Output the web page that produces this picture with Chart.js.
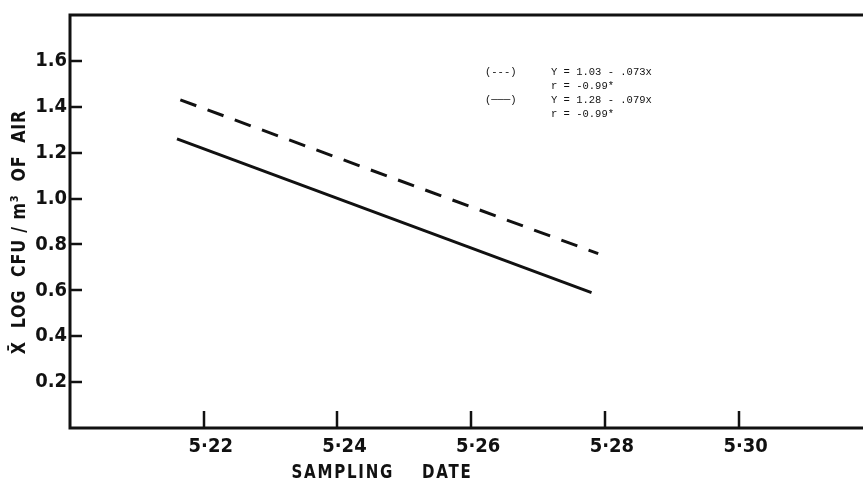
<!DOCTYPE html>
<html>
<head>
<meta charset="utf-8">
<script src="https://cdn.jsdelivr.net/npm/chart.js@4/dist/chart.umd.min.js"></script>
<style>
  html, body { margin:0; padding:0; background:#fff; }
  #wrap { width:863px; height:486px; position:relative; }
</style>
</head>
<body>
<div id="wrap"><canvas id="chart"></canvas></div>
<script>
// regression lines, x = day of May, y = mean log CFU/m3
const solidX  = [21.6, 27.8];
const solidY  = [1.26, 0.59];
const dashedX = [21.65, 27.9];
const dashedY = [1.43, 0.76];

const xTicks = [22, 24, 26, 28, 30];
const yTicks = [0.2, 0.4, 0.6, 0.8, 1.0, 1.2, 1.4, 1.6];

const notes = [
  ['(---)', 'Y = 1.03 - .073x'],
  ['',      'r = -0.99*'],
  ['(\u2500\u2500\u2500)', 'Y = 1.28 - .079x'],
  ['',      'r = -0.99*']
];

const INK = '#111';
const BOLD = '"DejaVu Sans Condensed", "DejaVu Sans", sans-serif';

const pts = (xs, ys) => xs.map((x, i) => ({ x: x, y: ys[i] }));

// squeezed bold text, like the condensed gothic of the original
function squeezed(ctx, text, x, y, rot, sx) {
  ctx.save();
  ctx.translate(x, y);
  if (rot) ctx.rotate(rot);
  ctx.scale(sx, 1);
  ctx.fillText(text, 0, 0);
  ctx.restore();
}

const frame = {
  id: 'frame',
  afterDraw(chart) {
    const { ctx, chartArea: a, scales: { x, y } } = chart;
    ctx.save();
    ctx.strokeStyle = INK;
    ctx.lineWidth = 3;
    ctx.lineCap = 'square';
    // axes box: left, bottom, top
    ctx.beginPath();
    ctx.moveTo(a.left, a.top); ctx.lineTo(chart.width, a.top);
    ctx.moveTo(a.left, a.top); ctx.lineTo(a.left, a.bottom);
    ctx.lineTo(chart.width, a.bottom);
    ctx.stroke();
    // inward tick marks
    ctx.lineWidth = 2.5;
    ctx.lineCap = 'butt';
    y.ticks.forEach(t => {
      const py = Math.round(y.getPixelForValue(t.value));
      ctx.beginPath(); ctx.moveTo(a.left, py); ctx.lineTo(a.left + 12, py); ctx.stroke();
    });
    x.ticks.forEach(t => {
      const px = Math.round(x.getPixelForValue(t.value));
      ctx.beginPath(); ctx.moveTo(px, a.bottom); ctx.lineTo(px, a.bottom - 17); ctx.stroke();
    });

    // axis titles
    ctx.fillStyle = INK;
    ctx.textAlign = 'center';
    ctx.textBaseline = 'middle';
    ctx.font = 'bold 19px ' + BOLD;
    ctx.letterSpacing = '2px';
    squeezed(ctx, 'SAMPLING    DATE', 382, 473, 0, 0.88);
    ctx.font = 'bold 20px ' + BOLD;
    ctx.letterSpacing = '1px';
    squeezed(ctx, 'X\u0304  LOG  CFU / m\u00b3  OF  AIR', 20, 232, -Math.PI / 2, 0.88);

    // regression notes
    ctx.letterSpacing = '0px';
    ctx.font = '10.5px "Liberation Mono", "DejaVu Sans Mono", monospace';
    ctx.textAlign = 'left';
    notes.forEach((n, i) => {
      const ty = 72 + i * 14;
      if (n[0]) ctx.fillText(n[0], 485, ty);
      ctx.fillText(n[1], 551, ty);
    });
    ctx.restore();
  }
};

new Chart(document.getElementById('chart'), {
  type: 'scatter',
  data: {
    datasets: [{
      data: pts(dashedX, dashedY),
      showLine: true, borderColor: INK, borderWidth: 3, borderDash: [17, 12],
      pointRadius: 0, fill: false
    }, {
      data: pts(solidX, solidY),
      showLine: true, borderColor: INK, borderWidth: 3,
      pointRadius: 0, fill: false
    }]
  },
  plugins: [frame],
  options: {
    responsive: true, maintainAspectRatio: false, animation: false,
    layout: { padding: { top: 13, right: 0, left: 0, bottom: 0 } },
    plugins: { legend: { display: false }, tooltip: { enabled: false } },
    scales: {
      x: {
        type: 'linear', min: 20, max: 31.86,
        afterBuildTicks: s => { s.ticks = xTicks.map(v => ({ value: v })); },
        afterFit: s => { s.height = 58; },
        grid: { display: false, drawTicks: false }, border: { display: false },
        ticks: {
          color: INK, padding: 7, labelOffset: 7, maxRotation: 0,
          font: { family: BOLD, size: 20, weight: 'bold' },
          callback: v => '5\u00b7' + v
        }
      },
      y: {
        min: 0, max: 1.8,
        afterBuildTicks: s => { s.ticks = yTicks.map(v => ({ value: v })); },
        afterFit: s => { s.width = 70; },
        grid: { display: false, drawTicks: false }, border: { display: false },
        ticks: {
          color: INK, padding: 3,
          font: { family: BOLD, size: 20, weight: 'bold' },
          callback: v => v.toFixed(1)
        }
      }
    }
  }
});
</script>
</body>
</html>
